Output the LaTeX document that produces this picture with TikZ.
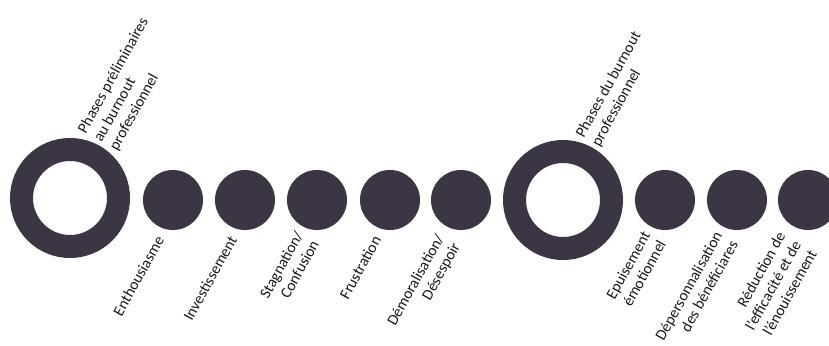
\documentclass[tikz,border=0pt]{standalone}
\usepackage{fontspec}
\setmainfont{Carlito}
\definecolor{disc}{RGB}{60,54,68}
\definecolor{txt}{RGB}{25,23,28}
\begin{document}
\begin{tikzpicture}[x=1pt,y=-1pt,
  ring/.style={circle,draw=disc,line width=23pt,minimum size=97pt,inner sep=0pt,outer sep=0pt},
  dot/.style={circle,fill=disc,minimum size=60pt,inner sep=0pt,outer sep=0pt},
  lab/.style={rotate=61,text=txt,inner sep=0pt,font=\fontsize{15.5}{18}\selectfont},
  toplab/.style={lab,anchor=west,align=left},
  botlab/.style={lab,anchor=east,align=right}]
\useasboundingbox (0,0) rectangle (829,345);
\clip (0,0) rectangle (829,345);
\fill[white] (0,0) rectangle (829,345);
% discs
\node[ring] (r1) at (70,198) {};
\node[dot] (c1) at (173,200) {};
\node[dot] (c2) at (245,200) {};
\node[dot] (c3) at (317,200) {};
\node[dot] (c4) at (390,200) {};
\node[dot] (c5) at (461,200) {};
\node[ring] (r2) at (563,200) {};
\node[dot] (c6) at (665,200) {};
\node[dot] (c7) at (737,200) {};
\node[dot] (c8) at (808,200) {};
% top labels
\node[toplab] (t1) at (98,141) {Phases préliminaires\\au burnout\\professionnel};
\node[toplab] (t2) at (588,141) {Phases du burnout\\professionnel};
% bottom labels
\node[botlab] (l1) at (160,237) {Enthousiasme};
\node[botlab] (l2) at (233,237) {Investissement};
\node[botlab] (l3) at (307,237) {Stagnation/\\Confusion};
\node[botlab] (l4) at (377,237) {Frustration};
\node[botlab] (l5) at (449,240) {Démoralisation/\\Désespoir};
\node[botlab] (l6) at (654,237) {Epuisement\\émotionnel};
\node[botlab] (l7) at (726,237) {Dépersonnalisation\\des bénéficiares};
\node[botlab] (l8) at (797,242) {Réduction de\\l'efficacité et de\\l'énouissement};
\end{tikzpicture}
\end{document}
